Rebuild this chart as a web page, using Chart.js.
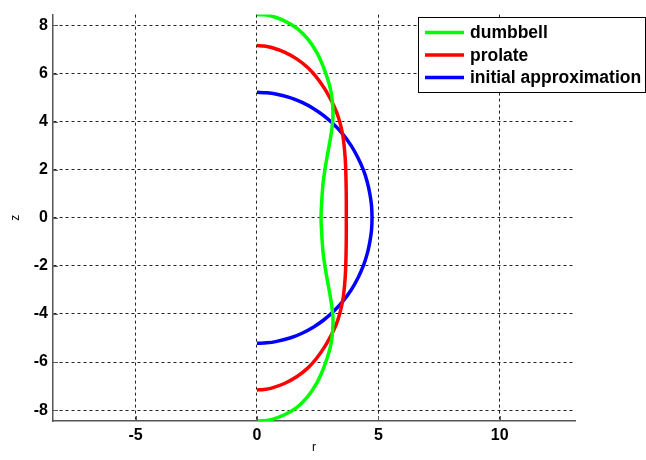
<!DOCTYPE html>
<html>
<head>
<meta charset="utf-8">
<script src="https://cdn.jsdelivr.net/npm/chart.js@4.4.1/dist/chart.umd.min.js"></script>
<style>
  html, body { margin: 0; padding: 0; background: #fff; }
  #wrap { width: 646px; height: 460px; position: relative; }
</style>
</head>
<body>
<div id="wrap"><canvas id="shapes"></canvas></div>
<script>
// Meridian profiles r(z) of the three shapes, traced top to bottom
const dumbbellR = [0, 0.3, 0.6, 1.13, 1.65, 2.09, 2.45, 2.71, 2.92, 3.06, 3.12, 3.13, 3.08, 3.0, 2.9, 2.8, 2.72, 2.67, 2.64,
                   2.67, 2.72, 2.8, 2.9, 3.0, 3.08, 3.13, 3.12, 3.06, 2.92, 2.71, 2.45, 2.09, 1.65, 1.13, 0.6, 0.3, 0];
const dumbbellZ = [8.45, 8.44, 8.39, 8.19, 7.88, 7.44, 6.9, 6.34, 5.75, 5.2, 4.65, 4.15, 3.65, 3.15, 2.6, 2.0, 1.4, 0.7, 0,
                   -0.7, -1.4, -2.0, -2.6, -3.15, -3.65, -4.15, -4.65, -5.2, -5.75, -6.34, -6.9, -7.44, -7.88, -8.19, -8.39, -8.44, -8.45];

const prolateR = [0, 0.3, 0.6, 1.13, 1.65, 2.09, 2.45, 2.78, 3.05, 3.26, 3.42, 3.54, 3.61, 3.65, 3.67, 3.68, 3.68,
                  3.68, 3.67, 3.65, 3.61, 3.54, 3.42, 3.26, 3.05, 2.78, 2.45, 2.09, 1.65, 1.13, 0.6, 0.3, 0];
const prolateZ = [7.16, 7.14, 7.08, 6.89, 6.6, 6.25, 5.85, 5.38, 4.9, 4.45, 3.95, 3.4, 2.8, 2.2, 1.5, 0.75, 0,
                  -0.75, -1.5, -2.2, -2.8, -3.4, -3.95, -4.45, -4.9, -5.38, -5.85, -6.25, -6.6, -6.89, -7.08, -7.14, -7.16];

const approxR = [0, 0.4, 0.77, 1.36, 1.86, 2.32, 2.75, 3.15, 3.52, 3.88, 4.16, 4.38, 4.54, 4.65, 4.72, 4.74,
                 4.72, 4.65, 4.54, 4.38, 4.16, 3.88, 3.52, 3.15, 2.75, 2.32, 1.86, 1.36, 0.77, 0.4, 0];
const approxZ = [5.22, 5.2, 5.15, 5.0, 4.8, 4.55, 4.25, 3.9, 3.5, 3.0, 2.5, 2.0, 1.5, 1.0, 0.5, 0,
                 -0.5, -1.0, -1.5, -2.0, -2.5, -3.0, -3.5, -3.9, -4.25, -4.55, -4.8, -5.0, -5.15, -5.2, -5.22];

const seriesNames = ['dumbbell', 'prolate', 'initial approximation'];
const seriesColors = ['#00ff00', '#ff0000', '#0000ff'];

const xTicks = [-5, 0, 5, 10];
const yTicks = [-8, -6, -4, -2, 0, 2, 4, 6, 8];
const xLimits = [-8.4, 13.1];
const yLimits = [-8.45, 8.45];

const toPoints = (rs, zs) => rs.map((r, i) => ({ x: r, y: zs[i] }));

const AXIS_COLOR = '#555';
const FONT = 'Liberation Sans, Arial, Helvetica, sans-serif';

// short inward tick marks on the left and bottom axes
const innerTicks = {
  id: 'innerTicks',
  afterDatasetsDraw(chart) {
    const { ctx, chartArea: a, scales: { x, y } } = chart;
    ctx.save();
    ctx.strokeStyle = AXIS_COLOR;
    ctx.lineWidth = 1;
    ctx.beginPath();
    xTicks.forEach(v => {
      const px = Math.round(x.getPixelForValue(v)) + 0.5;
      ctx.moveTo(px, a.bottom);
      ctx.lineTo(px, a.bottom - 5);
    });
    yTicks.forEach(v => {
      const py = Math.round(y.getPixelForValue(v)) + 0.5;
      ctx.moveTo(a.left, py);
      ctx.lineTo(a.left + 5, py);
    });
    ctx.stroke();
    ctx.restore();
  }
};

// boxed legend in the upper right corner
const boxLegend = {
  id: 'boxLegend',
  afterDraw(chart) {
    const ctx = chart.ctx;
    const bx = 418.5, by = 17.5, bw = 227, bh = 75;
    ctx.save();
    ctx.fillStyle = '#fff';
    ctx.fillRect(bx, by, bw, bh);
    ctx.strokeStyle = '#000';
    ctx.lineWidth = 1;
    ctx.strokeRect(bx, by, bw, bh);
    ctx.font = 'bold 17.5px ' + FONT;
    ctx.textBaseline = 'middle';
    ctx.textAlign = 'left';
    seriesNames.forEach((name, i) => {
      const ly = 32.5 + i * 22.5;
      ctx.strokeStyle = seriesColors[i];
      ctx.lineWidth = 3.5;
      ctx.beginPath();
      ctx.moveTo(425, ly);
      ctx.lineTo(464, ly);
      ctx.stroke();
      ctx.fillStyle = '#000';
      ctx.fillText(name, 470, ly + 1);
    });
    ctx.restore();
  }
};

new Chart(document.getElementById('shapes'), {
  type: 'scatter',
  data: {
    datasets: [
      { label: seriesNames[0], data: toPoints(dumbbellR, dumbbellZ) },
      { label: seriesNames[1], data: toPoints(prolateR, prolateZ) },
      { label: seriesNames[2], data: toPoints(approxR, approxZ) }
    ].map((d, i) => Object.assign(d, {
      showLine: true,
      borderColor: seriesColors[i],
      borderWidth: 3.5,
      pointRadius: 0,
      tension: 0.3,
      fill: false
    }))
  },
  options: {
    responsive: true,
    maintainAspectRatio: false,
    animation: false,
    layout: { padding: { left: 0, right: 71, top: 9, bottom: 0 } },
    plugins: { legend: { display: false }, tooltip: { enabled: false } },
    scales: {
      x: {
        type: 'linear',
        min: xLimits[0],
        max: xLimits[1],
        afterBuildTicks: s => { s.ticks = xTicks.map(v => ({ value: v })); },
        afterFit: s => { s.height = 39; },
        grid: { color: '#222', lineWidth: 1, drawTicks: false },
        border: { display: true, color: AXIS_COLOR, width: 1.5, dash: [3, 3] },
        ticks: { color: '#000', padding: 5, font: { family: FONT, size: 16, weight: 'bold' }, maxRotation: 0 },
        title: { display: true, text: 'r', color: '#000', font: { family: FONT, size: 12 }, padding: { top: 0, bottom: 5 } }
      },
      y: {
        type: 'linear',
        min: yLimits[0],
        max: yLimits[1],
        afterBuildTicks: s => { s.ticks = yTicks.map(v => ({ value: v })); },
        afterFit: s => { s.width = 53; },
        grid: { color: '#222', lineWidth: 1, drawTicks: false },
        border: { display: true, color: AXIS_COLOR, width: 1.5, dash: [3, 3] },
        ticks: { color: '#000', padding: 5, font: { family: FONT, size: 16, weight: 'bold' } },
        title: { display: true, text: 'z', color: '#000', font: { family: FONT, size: 12 }, padding: { top: 8, bottom: 0 } }
      }
    }
  },
  plugins: [innerTicks, boxLegend]
});
</script>
</body>
</html>
